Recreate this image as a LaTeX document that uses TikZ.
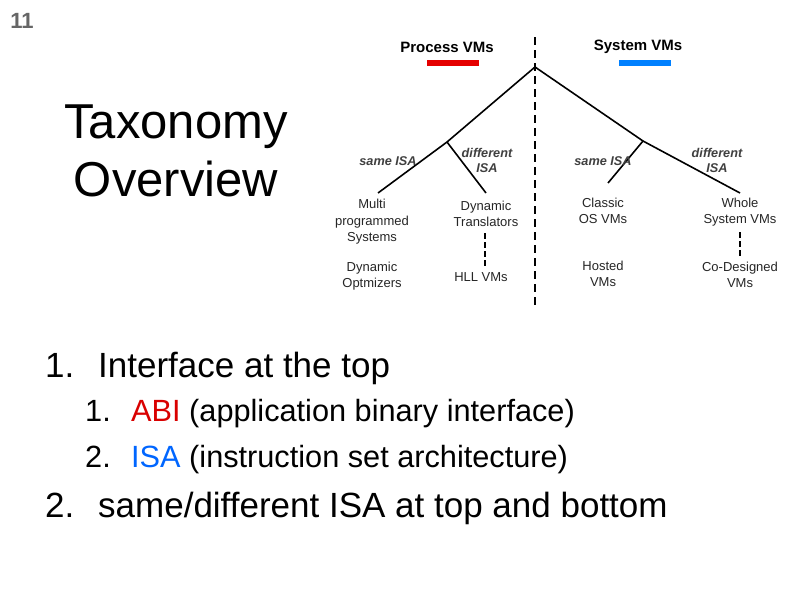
\documentclass[tikz,border=0pt]{standalone}
\usepackage{fontspec}
\setmainfont{Liberation Sans}
\begin{document}
\begin{tikzpicture}[x=1pt,y=-1pt,
  lf/.style={font=\fontsize{13}{16.5}\selectfont,align=center,text=black!85,inner sep=0},
  lb/.style={font=\fontsize{12.7}{15}\selectfont\itshape\bfseries,align=center,text=black!75,inner sep=0},
  tt/.style={font=\fontsize{15}{17}\selectfont\bfseries,inner sep=0},
  br/.style={line width=1.6pt},
  dl/.style={line width=1.8pt,dash pattern=on 8pt off 5pt},
  big/.style={font=\fontsize{35}{38}\selectfont,anchor=base west,inner sep=0},
  sub/.style={font=\fontsize{30.7}{34}\selectfont,anchor=base west,inner sep=0}]
\useasboundingbox (0,0) rectangle (794,595);
\fill[white] (0,0) rectangle (794,595);
\node[font=\fontsize{22}{26}\selectfont\bfseries,text=black!60,inner sep=0] (num) at (22,21) {11};
\node[font=\fontsize{49}{58}\selectfont,align=center,inner sep=0] (title) at (176,151) {Taxonomy\\Overview};
% tree
\coordinate (root) at (535,67);
\coordinate (lb) at (447,142);
\coordinate (rb) at (643,141);
\coordinate (l1) at (378,193);
\coordinate (l2) at (486,193);
\coordinate (r1) at (608,183);
\coordinate (r2) at (740,193);
\coordinate (vt) at (535,37);
\coordinate (vb) at (535,308);
\draw[dl] (vt) -- (vb);
\draw[br] (l1) -- (lb) -- (root) -- (rb) -- (r2);
\draw[br] (lb) -- (l2);
\draw[br] (rb) -- (r1);
\node[tt] (pv) at (447,47) {Process VMs};
\node[tt] (sv) at (638,47) {System VMs};
\fill[red!90!black] (427,60) rectangle (479,66);
\fill[blue!50!cyan] (619,60) rectangle (671,66);
\node[lb] (s1) at (388,161) {same ISA};
\node[lb] (d1) at (487,160) {different\\ISA};
\node[lb] (s2) at (603,161) {same ISA};
\node[lb] (d2) at (717,160) {different\\ISA};
\node[lf] (mp) at (372,222) {Multi\\programmed\\Systems};
\node[lf] (dt) at (486,214) {Dynamic\\Translators};
\node[lf] (co) at (603,211) {Classic\\OS VMs};
\node[lf] (ws) at (740,212) {Whole\\System VMs};
\node[lf] (dop) at (372,276) {Dynamic\\Optmizers};
\node[lf] (hll) at (481,277) {HLL VMs};
\node[lf] (ho) at (603,274) {Hosted\\VMs};
\node[lf] (cd) at (740,275) {Co-Designed\\VMs};
\draw[line width=2.2pt,dash pattern=on 6pt off 3pt] (485,233) -- (485,266);
\draw[line width=1.5pt,dash pattern=on 6pt off 3pt] (740,232) -- (740,256);
% list
\node[big] (n1) at (45,377) {1.};
\node[big] (t1) at (98,377) {Interface at the top};
\node[sub] (n11) at (85,421) {1.};
\node[sub] (t11) at (131,421) {\textcolor{red!85!black}{ABI} (application binary interface)};
\node[sub] (n12) at (85,467) {2.};
\node[sub] (t12) at (131,467) {\textcolor{blue!60!cyan}{ISA} (instruction set architecture)};
\node[big] (n2) at (45,517) {2.};
\node[big] (t2) at (98,517) {same/different ISA at top and bottom};
\end{tikzpicture}
\end{document}
